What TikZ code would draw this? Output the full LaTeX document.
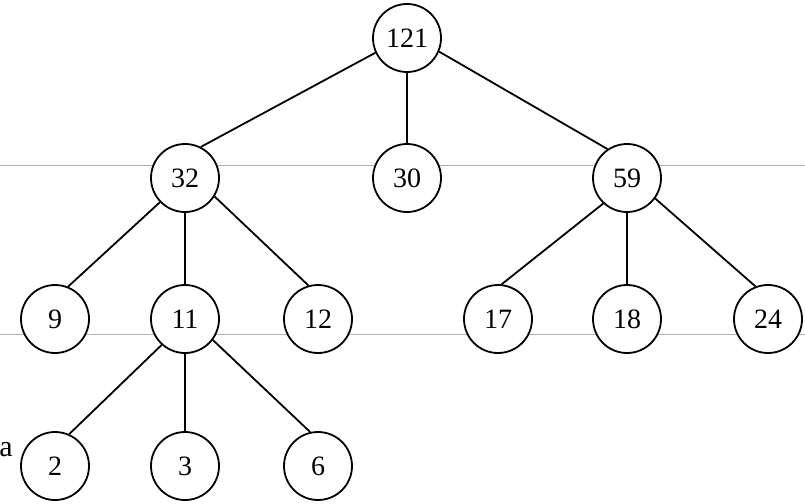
\documentclass[tikz,border=0pt]{standalone}
\usepackage{fontspec}
\setmainfont{Liberation Serif}
\begin{document}
\begin{tikzpicture}[x=1pt,y=-1pt,
  tn/.style={circle,draw=black,line width=1.8pt,fill=white,minimum size=68pt,inner sep=0pt,font=\fontsize{28}{28}\selectfont},
  edge/.style={line width=1.8pt},
  guide/.style={draw=black!30,line width=0.9pt}]
\useasboundingbox (0,0) rectangle (805,503);
\coordinate (g1l) at (0,165); \coordinate (g1r) at (805,165);
\coordinate (g2l) at (0,334); \coordinate (g2r) at (805,334);
\draw[guide] (g1l) -- (g1r);
\draw[guide] (g2l) -- (g2r);
\node[tn] (n121) at (407,38) {121};
\node[tn] (n32) at (185,178) {32};
\node[tn] (n30) at (407,178) {30};
\node[tn] (n59) at (627,178) {59};
\node[tn] (n9) at (55,319) {9};
\node[tn] (n11) at (185,319) {11};
\node[tn] (n12) at (318,319) {12};
\node[tn] (n17) at (498,319) {17};
\node[tn] (n18) at (627,319) {18};
\node[tn] (n24) at (768,319) {24};
\node[tn] (n2) at (55,466) {2};
\node[tn] (n3) at (185,466) {3};
\node[tn] (n6) at (318,466) {6};
\node[font=\fontsize{30}{30}\selectfont,inner sep=0pt] (la) at (6,450) {a};
\foreach \a/\p/\b/\c in {n121/-155/n32/63, n121/-23/n59/124,
    n32/-136/n9/68, n32/-32/n12/106,
    n59/-133/n17/84, n59/-36/n24/111,
    n11/-132/n2/66, n11/-37/n6/103}
  \draw[edge] (\a.\p) -- (\b.\c);
\foreach \a/\b in {n121/n30,n32/n11,n59/n18,n11/n3}
  \draw[edge] (\a) -- (\b);
\end{tikzpicture}
\end{document}
